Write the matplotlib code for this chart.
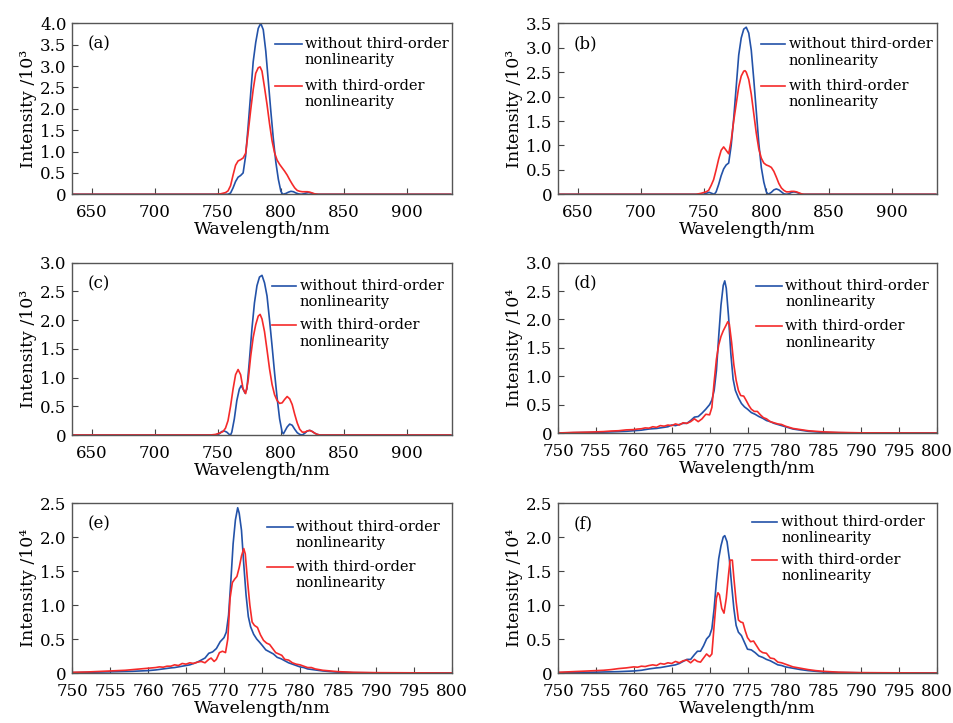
import numpy as np
import matplotlib
matplotlib.use("Agg")
import matplotlib.pyplot as plt

plt.rcParams['font.family'] = ['DejaVu Serif']

# ---- data (wavelength nm, intensity) ----
# (a)
a_wl_blue = [635, 755, 758, 760, 762, 764, 766, 768, 770, 772, 774, 776, 778, 780, 782, 784, 786, 788, 790,
             792, 794, 796, 798, 800, 801.5, 804, 806, 808, 810, 812, 814, 816, 818, 820, 822, 824, 826, 828, 935]
a_blue = [0, 0, 0, 0.03, 0.15, 0.3, 0.4, 0.44, 0.5, 0.9, 1.6, 2.35, 3.1, 3.55, 3.88, 4.0, 3.85, 3.35, 2.65,
          1.95, 1.3, 0.75, 0.35, 0.07, 0.0, 0.02, 0.05, 0.07, 0.06, 0.03, 0.01, 0.0, 0.01, 0.03, 0.04, 0.03, 0.01, 0, 0]
a_wl_red = [635, 748, 752, 756, 758, 760, 762, 764, 766, 768, 770, 772, 774, 776, 778, 780, 782, 783.5, 785,
            787, 789, 791, 793, 795, 797, 799, 801, 803, 805, 807, 809, 811, 813, 815, 817, 819, 821, 823, 825,
            827, 830, 935]
a_red = [0, 0, 0.01, 0.04, 0.08, 0.2, 0.45, 0.68, 0.78, 0.81, 0.85, 0.96, 1.45, 1.97, 2.45, 2.83, 2.96, 2.98, 2.88,
         2.5, 2.1, 1.65, 1.25, 0.97, 0.8, 0.7, 0.62, 0.54, 0.45, 0.34, 0.24, 0.15, 0.09, 0.07, 0.06, 0.06, 0.06,
         0.05, 0.03, 0.01, 0, 0]

# (b)
b_wl_blue = [635, 750, 752, 754.5, 756.5, 758.5, 760, 762, 764, 766, 768, 770, 772, 774, 776, 778, 780, 782, 784,
             786, 788, 790, 792, 794, 796, 798, 800, 801.5, 804, 806, 808, 810, 812, 814, 816, 818, 820, 822, 824,
             826, 828, 935]
b_blue = [0, 0, 0.02, 0.04, 0.02, 0, 0.05, 0.2, 0.38, 0.52, 0.6, 0.64, 1.0, 1.55, 2.2, 2.85, 3.2, 3.38, 3.42,
          3.3, 2.95, 2.35, 1.7, 1.05, 0.55, 0.25, 0.05, 0, 0.04, 0.09, 0.11, 0.09, 0.05, 0.01, 0, 0.01, 0.04,
          0.05, 0.04, 0.02, 0, 0]
b_wl_red = [635, 744, 748, 752, 754, 756, 758, 760, 762, 764, 766, 768, 770, 772, 774, 776, 778, 780, 782, 783,
            784, 786, 788, 790, 792, 794, 796, 798, 800, 802, 804, 806, 808, 810, 812, 814, 816, 818, 820, 822,
            824, 826, 828, 830, 935]
b_red = [0, 0, 0.02, 0.05, 0.08, 0.18, 0.3, 0.5, 0.72, 0.9, 0.97, 0.9, 0.83, 1.1, 1.5, 1.85, 2.2, 2.42, 2.52, 2.53,
         2.5, 2.35, 2.05, 1.65, 1.25, 0.93, 0.74, 0.64, 0.6, 0.58, 0.55, 0.47, 0.35, 0.22, 0.13, 0.08, 0.05,
         0.05, 0.06, 0.06, 0.05, 0.03, 0.01, 0, 0]

# (c)
c_wl_blue = [635, 748, 751, 753, 755, 757, 759, 760, 761, 763, 765, 767, 768.5, 770, 771.5, 773, 775, 777, 779,
             781, 783, 785, 787, 789, 791, 793, 795, 797, 799, 801, 802, 803, 805, 807, 809, 811, 813, 815, 817,
             819, 821, 823, 825, 827, 829, 831, 935]
c_blue = [0, 0, 0.02, 0.06, 0.07, 0.05, 0.01, 0, 0.05, 0.28, 0.6, 0.8, 0.86, 0.8, 0.73, 0.8, 1.3, 1.85, 2.3,
          2.6, 2.75, 2.78, 2.65, 2.42, 2.0, 1.55, 1.08, 0.65, 0.28, 0.05, 0.02, 0.06, 0.14, 0.19, 0.17, 0.1,
          0.04, 0.01, 0, 0.03, 0.07, 0.08, 0.06, 0.03, 0.01, 0, 0]
c_wl_red = [635, 744, 748, 751, 754, 756, 758, 760, 762, 764, 766, 768, 770, 772, 774, 776, 778, 780, 782,
            783.5, 785, 787, 789, 791, 793, 795, 797, 799, 801, 803, 805, 807, 809, 811, 813, 815, 817, 819,
            821, 823, 825, 827, 829, 831, 935]
c_red = [0, 0, 0.01, 0.03, 0.06, 0.12, 0.25, 0.5, 0.8, 1.05, 1.14, 1.05, 0.8, 0.72, 0.95, 1.37, 1.7, 1.92,
         2.07, 2.1, 2.02, 1.8, 1.48, 1.15, 0.88, 0.7, 0.6, 0.55, 0.56, 0.62, 0.67, 0.63, 0.53, 0.36, 0.21,
         0.1, 0.05, 0.05, 0.07, 0.08, 0.06, 0.03, 0.01, 0, 0]

# (d)
d_wl_blue = [750, 752, 754, 756, 757, 758, 759, 760, 761, 762, 762.5, 763, 763.5, 764, 764.5, 765, 765.5, 766,
             766.5, 767, 767.5, 768, 768.5, 769, 769.5, 770, 770.3, 770.6, 770.9, 771.2, 771.5, 771.8, 772.0,
             772.2, 772.5, 772.8, 773.1, 773.4, 773.8, 774.2, 774.6, 775, 775.5, 776, 776.5, 777, 777.5, 778,
             778.5, 779, 779.5, 780, 780.5, 781, 781.5, 782, 783, 784, 785, 787, 790, 800]
d_blue = [0, 0.005, 0.01, 0.015, 0.02, 0.025, 0.03, 0.04, 0.05, 0.07, 0.075, 0.08, 0.09, 0.1, 0.11, 0.14, 0.13,
          0.15, 0.17, 0.17, 0.22, 0.28, 0.29, 0.35, 0.42, 0.5, 0.58, 0.75, 1.1, 1.7, 2.25, 2.6, 2.68,
          2.55, 2.05, 1.4, 0.95, 0.75, 0.62, 0.52, 0.46, 0.42, 0.36, 0.33, 0.29, 0.26, 0.22, 0.2,
          0.17, 0.15, 0.13, 0.11, 0.09, 0.07, 0.06, 0.05, 0.03, 0.02, 0.01, 0.005, 0, 0]
d_wl_red = [750, 752, 754, 756, 757, 758, 759, 760, 760.5, 761, 761.5, 762, 762.5, 763, 763.5, 764, 764.5, 765,
            765.5, 766, 766.5, 767, 767.5, 768, 768.5, 769, 769.5, 770, 770.3, 770.6, 770.9, 771.2, 771.5,
            771.8, 772.1, 772.4, 772.6, 772.9, 773.2, 773.5, 773.8, 774.1, 774.5, 774.8, 775.2, 775.5, 775.9,
            776.3, 776.7, 777.1, 777.5, 778, 778.5, 779, 779.5, 780, 780.5, 781, 781.5, 782, 783, 784, 785,
            787, 790, 800]
d_red = [0, 0.01, 0.015, 0.025, 0.035, 0.04, 0.055, 0.06, 0.07, 0.075, 0.09, 0.085, 0.11, 0.1, 0.13, 0.12, 0.14,
         0.13, 0.16, 0.14, 0.18, 0.17, 0.2, 0.25, 0.2, 0.25, 0.33, 0.32, 0.45, 0.9, 1.3, 1.55, 1.7,
         1.8, 1.88, 1.96, 1.92, 1.6, 1.2, 0.93, 0.75, 0.66, 0.65, 0.58, 0.48, 0.42, 0.38,
         0.38, 0.32, 0.27, 0.25, 0.2, 0.18, 0.16, 0.15, 0.12, 0.1, 0.08, 0.07, 0.06, 0.04, 0.03, 0.02,
         0.01, 0.003, 0]

# (e)
e_wl_blue = [750, 752, 754, 756, 758, 759, 760, 761, 762, 763, 763.5, 764, 764.5, 765, 765.5, 766, 766.5, 767,
             767.5, 768, 768.5, 769, 769.5, 770, 770.3, 770.6, 770.9, 771.2, 771.5, 771.8, 772.0, 772.3, 772.6,
             772.9, 773.2, 773.5, 773.9, 774.3, 774.7, 775, 775.5, 776, 776.5, 777, 777.5, 778, 778.5, 779,
             779.5, 780, 780.5, 781, 782, 783, 784, 785, 787, 790, 800]
e_blue = [0.005, 0.01, 0.015, 0.02, 0.025, 0.03, 0.035, 0.045, 0.06, 0.075, 0.08, 0.09, 0.1, 0.11, 0.12, 0.14,
          0.16, 0.19, 0.22, 0.29, 0.31, 0.36, 0.46, 0.52, 0.6, 0.85, 1.35, 1.9, 2.25, 2.43, 2.35, 2.1, 1.6,
          1.15, 0.83, 0.68, 0.57, 0.5, 0.45, 0.41, 0.34, 0.31, 0.28, 0.23, 0.21, 0.18, 0.15, 0.13,
          0.11, 0.09, 0.08, 0.06, 0.045, 0.03, 0.02, 0.012, 0.005, 0.002, 0]
e_wl_red = [750, 752, 754, 756, 757, 758, 759, 760, 760.5, 761, 761.5, 762, 762.5, 763, 763.5, 764, 764.5, 765,
            765.5, 766, 766.5, 767, 767.5, 768, 768.3, 768.7, 769, 769.4, 769.8, 770.2, 770.5, 770.8, 771.1,
            771.4, 771.7, 772.0, 772.3, 772.6, 772.8, 773.1, 773.4, 773.7, 774.0, 774.4, 774.8, 775.2, 775.6,
            776, 776.4, 776.8, 777.2, 777.6, 778, 778.5, 779, 779.5, 780, 780.5, 781, 781.5, 782, 783, 784,
            785, 787, 790, 800]
e_red = [0.01, 0.015, 0.025, 0.035, 0.04, 0.05, 0.06, 0.07, 0.075, 0.08, 0.09, 0.085, 0.1, 0.1, 0.12, 0.11, 0.14,
         0.13, 0.15, 0.14, 0.16, 0.17, 0.15, 0.2, 0.22, 0.17, 0.2, 0.3, 0.32, 0.3, 0.5, 1.1, 1.33,
         1.38, 1.42, 1.55, 1.72, 1.83, 1.75, 1.35, 1.0, 0.75, 0.7, 0.67, 0.56, 0.48, 0.44,
         0.42, 0.36, 0.3, 0.28, 0.26, 0.2, 0.19, 0.15, 0.13, 0.12, 0.1, 0.08, 0.08, 0.06, 0.04, 0.03,
         0.02, 0.01, 0.005, 0]

# (f)
f_wl_blue = [750, 752, 754, 756, 758, 759, 760, 761, 762, 763, 763.5, 764, 764.5, 765, 765.5, 766, 766.5, 767,
             767.5, 768, 768.4, 768.8, 769.2, 769.6, 770, 770.3, 770.6, 770.9, 771.2, 771.5, 771.8, 772.0,
             772.3, 772.6, 772.9, 773.2, 773.5, 773.8, 774.2, 774.6, 775, 775.5, 776, 776.5, 777, 777.5, 778,
             778.5, 779, 779.5, 780, 780.5, 781, 782, 783, 784, 785, 787, 790, 800]
f_blue = [0.005, 0.008, 0.01, 0.015, 0.02, 0.025, 0.03, 0.04, 0.06, 0.075, 0.08, 0.09, 0.1, 0.11, 0.12, 0.14,
          0.17, 0.2, 0.2, 0.27, 0.32, 0.32, 0.4, 0.5, 0.55, 0.65, 0.95, 1.35, 1.68, 1.87, 2.0, 2.02,
          1.93, 1.68, 1.3, 0.95, 0.7, 0.6, 0.55, 0.45, 0.35, 0.34, 0.3, 0.25, 0.23, 0.2, 0.18,
          0.15, 0.12, 0.11, 0.09, 0.08, 0.07, 0.05, 0.035, 0.025, 0.015, 0.007, 0.003, 0]
f_wl_red = [750, 752, 754, 756, 757, 758, 759, 760, 760.5, 761, 761.5, 762, 762.5, 763, 763.5, 764, 764.5, 765,
            765.5, 766, 766.5, 767, 767.5, 768, 768.4, 768.8, 769.2, 769.6, 770, 770.3, 770.6, 770.9, 771.1,
            771.3, 771.6, 771.9, 772.2, 772.5, 772.7, 773.0, 773.2, 773.5, 773.8, 774.1, 774.4, 774.7, 775.0,
            775.4, 775.8, 776.2, 776.6, 777, 777.5, 778, 778.5, 779, 779.5, 780, 780.5, 781, 781.5, 782, 783,
            784, 785, 787, 790, 800]
f_red = [0.01, 0.02, 0.03, 0.04, 0.05, 0.065, 0.075, 0.09, 0.085, 0.1, 0.095, 0.11, 0.12, 0.11, 0.14, 0.13, 0.15,
         0.14, 0.17, 0.15, 0.18, 0.19, 0.15, 0.2, 0.17, 0.16, 0.22, 0.28, 0.24, 0.28, 0.7, 1.1, 1.18,
         1.15, 0.95, 0.88, 1.1, 1.45, 1.66, 1.66, 1.4, 1.05, 0.78, 0.75, 0.74, 0.62, 0.52,
         0.46, 0.47, 0.4, 0.33, 0.3, 0.29, 0.22, 0.21, 0.16, 0.15, 0.13, 0.11, 0.09, 0.08, 0.07, 0.05,
         0.035, 0.025, 0.012, 0.005, 0]

panels = [
    ("(a)", a_wl_blue, a_blue, a_wl_red, a_red, 4.0, "10\u00b3", "wide"),
    ("(b)", b_wl_blue, b_blue, b_wl_red, b_red, 3.5, "10\u00b3", "wide"),
    ("(c)", c_wl_blue, c_blue, c_wl_red, c_red, 3.0, "10\u00b3", "wide"),
    ("(d)", d_wl_blue, d_blue, d_wl_red, d_red, 3.0, "10\u2074", "narrow"),
    ("(e)", e_wl_blue, e_blue, e_wl_red, e_red, 2.5, "10\u2074", "narrow"),
    ("(f)", f_wl_blue, f_blue, f_wl_red, f_red, 2.5, "10\u2074", "narrow"),
]

# axes boxes in pixels: left, top, right, bottom
boxes = [(72, 23.3, 452, 194.3), (558, 23.3, 937, 194.3),
         (72, 262.7, 452, 435), (558, 262.7, 937, 433),
         (72, 503, 452, 673), (558, 503, 937, 673)]
# legend x (line start, line end, text) and y (entry 1, entry 2) in axes fractions
leg_x = [(0.534, 0.605, 0.612), (0.536, 0.599, 0.609), (0.526, 0.589, 0.600),
         (0.522, 0.590, 0.599), (0.512, 0.582, 0.589), (0.511, 0.577, 0.589)]
leg_y = [(0.879, 0.633), (0.877, 0.635), (0.867, 0.636),
         (0.865, 0.626), (0.861, 0.625), (0.89, 0.665)]

W, H = 954, 723
BLUE = '#2352a8'
RED = '#f52a2a'

fig = plt.figure(figsize=(W / 100, H / 100), dpi=100)

for i, (tag, xb, yb, xr, yr, ymax, unit, kind) in enumerate(panels):
    l, t, r, b = boxes[i]
    ax = fig.add_axes([l / W, 1 - b / H, (r - l) / W, (b - t) / H])
    ax.plot(xb, yb, color=BLUE, lw=1.2)
    ax.plot(xr, yr, color=RED, lw=1.2)

    if kind == "wide":
        ax.set_xlim(634, 936)
        ax.set_xticks(np.arange(650, 901, 50))
    else:
        ax.set_xlim(750, 800)
        ax.set_xticks(np.arange(750, 801, 5))
    ax.set_ylim(0, ymax)
    yt = np.arange(0, ymax + 0.01, 0.5)
    ax.set_yticks(yt)
    ax.set_yticklabels(["0"] + ["%.1f" % v for v in yt[1:]])

    ax.tick_params(direction='in', length=4, width=0.8, labelsize=12, color='#444444')
    ax.tick_params(axis='x', pad=7)
    ax.tick_params(axis='y', pad=4)
    for s in ax.spines.values():
        s.set_color('#555555')
        s.set_linewidth(1.0)

    ax.set_xlabel("Wavelength/nm", fontsize=12.5, labelpad=0)
    ax.set_ylabel("Intensity /" + unit, fontsize=12.5, labelpad=2)

    ax.text(0.04, 0.88, tag, transform=ax.transAxes, fontsize=12, va='center', ha='left')

    x0, x1, xt = leg_x[i]
    for (yy, col, lab) in [(leg_y[i][0], BLUE, "without third-order"),
                           (leg_y[i][1], RED, "with third-order")]:
        ax.plot([x0, x1], [yy, yy], color=col, lw=1.2, transform=ax.transAxes)
        ax.text(xt, yy, lab, transform=ax.transAxes, fontsize=10.5, va='center', ha='left')
        ax.text(xt, yy - 0.095, "nonlinearity", transform=ax.transAxes, fontsize=10.5,
                va='center', ha='left')

fig.savefig("out.png", dpi=100)
